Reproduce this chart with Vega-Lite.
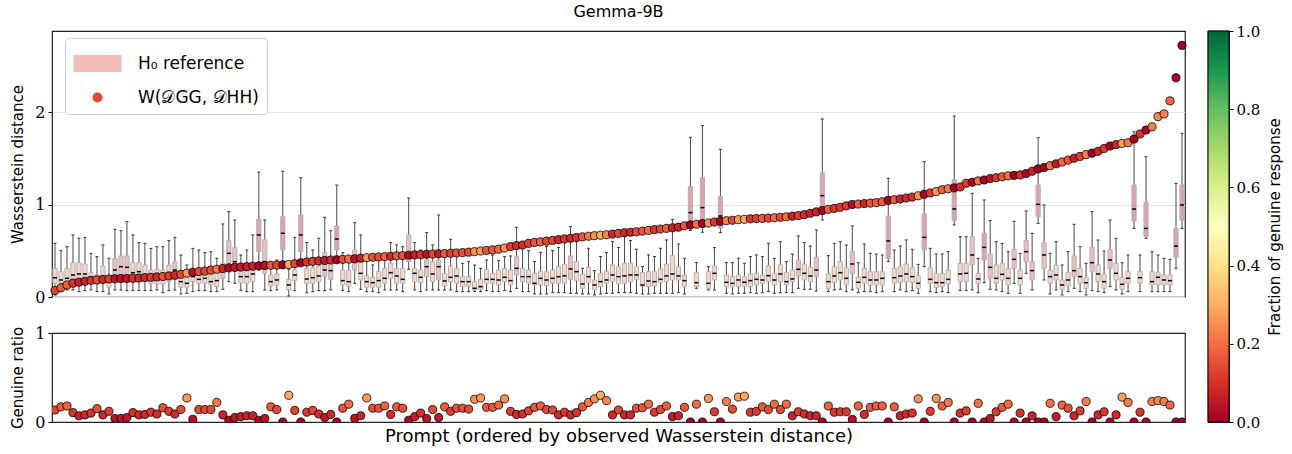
{
"$schema":"https://vega.github.io/schema/vega-lite/v6.json",
"padding":{"left":10,"top":3,"right":4,"bottom":2},
"config":{"font":"DejaVu Sans","view":{"stroke":"#222","strokeWidth":1.2},
"axis":{"labelFont":"DejaVu Serif","labelFontSize":15,"labelColor":"#000","titleFont":"DejaVu Sans","titleFontWeight":"normal","titleColor":"#000","tickColor":"#000","domain":false}},
"datasets":{
"legend":[{"s":"H₀ reference"},{"s":"W(𝒟GG, 𝒟HH)"}],
"bar":[{"lo":0,"hi":1}],
"rows":[
{"i":1,"w":0.07,"f":0.135,"lo":0.022,"q1":0.148,"md":0.209,"q3":0.31,"hi":0.58},
{"i":2,"w":0.1,"f":0.17,"lo":0.058,"q1":0.148,"md":0.184,"q3":0.274,"hi":0.501},
{"i":3,"w":0.13,"f":0.18,"lo":0.076,"q1":0.148,"md":0.202,"q3":0.31,"hi":0.544},
{"i":4,"w":0.15,"f":0.105,"lo":0.076,"q1":0.166,"md":0.238,"q3":0.371,"hi":0.671},
{"i":5,"w":0.16,"f":0.07,"lo":0.058,"q1":0.184,"md":0.249,"q3":0.371,"hi":0.635},
{"i":6,"w":0.17,"f":0.08,"lo":0.069,"q1":0.166,"md":0.249,"q3":0.357,"hi":0.645},
{"i":7,"w":0.18,"f":0.1,"lo":0.076,"q1":0.155,"md":0.213,"q3":0.263,"hi":0.472},
{"i":8,"w":0.185,"f":0.15,"lo":0.058,"q1":0.141,"md":0.184,"q3":0.238,"hi":0.436},
{"i":9,"w":0.19,"f":0.08,"lo":0.058,"q1":0.155,"md":0.22,"q3":0.335,"hi":0.563},
{"i":10,"w":0.195,"f":0.12,"lo":0.033,"q1":0.105,"md":0.166,"q3":0.227,"hi":0.418},
{"i":11,"w":0.197,"f":0.04,"lo":0.076,"q1":0.166,"md":0.292,"q3":0.418,"hi":0.732},
{"i":12,"w":0.2,"f":0.04,"lo":0.076,"q1":0.202,"md":0.328,"q3":0.444,"hi":0.717},
{"i":13,"w":0.2,"f":0.05,"lo":0.069,"q1":0.184,"md":0.321,"q3":0.444,"hi":0.815},
{"i":14,"w":0.202,"f":0.105,"lo":0.069,"q1":0.166,"md":0.263,"q3":0.371,"hi":0.671},
{"i":15,"w":0.205,"f":0.08,"lo":0.069,"q1":0.184,"md":0.274,"q3":0.371,"hi":0.588},
{"i":16,"w":0.21,"f":0.085,"lo":0.069,"q1":0.166,"md":0.22,"q3":0.346,"hi":0.58},
{"i":17,"w":0.213,"f":0.11,"lo":0.069,"q1":0.148,"md":0.202,"q3":0.292,"hi":0.526},
{"i":18,"w":0.217,"f":0.09,"lo":0.076,"q1":0.141,"md":0.213,"q3":0.299,"hi":0.544},
{"i":19,"w":0.222,"f":0.16,"lo":0.047,"q1":0.141,"md":0.202,"q3":0.292,"hi":0.544},
{"i":20,"w":0.228,"f":0.12,"lo":0.069,"q1":0.166,"md":0.249,"q3":0.346,"hi":0.609},
{"i":21,"w":0.235,"f":0.09,"lo":0.076,"q1":0.191,"md":0.292,"q3":0.382,"hi":0.645},
{"i":22,"w":0.245,"f":0.14,"lo":0.033,"q1":0.105,"md":0.166,"q3":0.22,"hi":0.454},
{"i":23,"w":0.258,"f":0.27,"lo":0.04,"q1":0.105,"md":0.148,"q3":0.22,"hi":0.346},
{"i":24,"w":0.268,"f":0.03,"lo":0.058,"q1":0.166,"md":0.22,"q3":0.299,"hi":0.526},
{"i":25,"w":0.275,"f":0.14,"lo":0.069,"q1":0.148,"md":0.191,"q3":0.292,"hi":0.508},
{"i":26,"w":0.28,"f":0.14,"lo":0.069,"q1":0.148,"md":0.202,"q3":0.292,"hi":0.48},
{"i":27,"w":0.29,"f":0.14,"lo":0.058,"q1":0.13,"md":0.166,"q3":0.274,"hi":0.49},
{"i":28,"w":0.3,"f":0.22,"lo":0.058,"q1":0.112,"md":0.177,"q3":0.263,"hi":0.418},
{"i":29,"w":0.308,"f":0.08,"lo":0.083,"q1":0.202,"md":0.328,"q3":0.364,"hi":0.79},
{"i":30,"w":0.315,"f":0.02,"lo":0.166,"q1":0.364,"md":0.472,"q3":0.609,"hi":0.923},
{"i":31,"w":0.32,"f":0.05,"lo":0.148,"q1":0.292,"md":0.382,"q3":0.537,"hi":0.833},
{"i":32,"w":0.324,"f":0.06,"lo":0.069,"q1":0.155,"md":0.22,"q3":0.292,"hi":0.454},
{"i":33,"w":0.328,"f":0.07,"lo":0.058,"q1":0.148,"md":0.22,"q3":0.285,"hi":0.508},
{"i":34,"w":0.333,"f":0.07,"lo":0.058,"q1":0.166,"md":0.249,"q3":0.346,"hi":0.671},
{"i":35,"w":0.337,"f":0.02,"lo":0.292,"q1":0.49,"md":0.671,"q3":0.84,"hi":1.35},
{"i":36,"w":0.34,"f":0.04,"lo":0.076,"q1":0.256,"md":0.382,"q3":0.617,"hi":0.833},
{"i":37,"w":0.343,"f":0.17,"lo":0.069,"q1":0.119,"md":0.166,"q3":0.238,"hi":0.364},
{"i":38,"w":0.345,"f":0.14,"lo":0.076,"q1":0.13,"md":0.184,"q3":0.249,"hi":0.4},
{"i":39,"w":0.348,"f":0.0,"lo":0.37,"q1":0.508,"md":0.689,"q3":0.869,"hi":1.36},
{"i":40,"w":0.352,"f":0.3,"lo":0.011,"q1":0.076,"md":0.13,"q3":0.191,"hi":0.3},
{"i":41,"w":0.36,"f":0.13,"lo":0.069,"q1":0.177,"md":0.238,"q3":0.292,"hi":0.645},
{"i":42,"w":0.37,"f":0.0,"lo":0.35,"q1":0.49,"md":0.671,"q3":0.887,"hi":1.29},
{"i":43,"w":0.378,"f":0.11,"lo":0.047,"q1":0.148,"md":0.195,"q3":0.31,"hi":0.588},
{"i":44,"w":0.385,"f":0.13,"lo":0.058,"q1":0.148,"md":0.209,"q3":0.317,"hi":0.508},
{"i":45,"w":0.39,"f":0.09,"lo":0.069,"q1":0.166,"md":0.227,"q3":0.335,"hi":0.635},
{"i":46,"w":0.395,"f":0.05,"lo":0.069,"q1":0.22,"md":0.292,"q3":0.48,"hi":0.862},
{"i":47,"w":0.4,"f":0.085,"lo":0.076,"q1":0.191,"md":0.285,"q3":0.4,"hi":0.717},
{"i":48,"w":0.403,"f":0.0,"lo":0.38,"q1":0.508,"md":0.627,"q3":0.768,"hi":1.21},
{"i":49,"w":0.407,"f":0.155,"lo":0.069,"q1":0.13,"md":0.177,"q3":0.292,"hi":0.48},
{"i":50,"w":0.41,"f":0.2,"lo":0.058,"q1":0.119,"md":0.166,"q3":0.285,"hi":0.418},
{"i":51,"w":0.413,"f":0.04,"lo":0.148,"q1":0.292,"md":0.382,"q3":0.508,"hi":0.804},
{"i":52,"w":0.42,"f":0.07,"lo":0.083,"q1":0.184,"md":0.256,"q3":0.382,"hi":0.671},
{"i":53,"w":0.425,"f":0.27,"lo":0.058,"q1":0.105,"md":0.166,"q3":0.227,"hi":0.4},
{"i":54,"w":0.43,"f":0.155,"lo":0.058,"q1":0.105,"md":0.155,"q3":0.213,"hi":0.346},
{"i":55,"w":0.433,"f":0.155,"lo":0.047,"q1":0.105,"md":0.177,"q3":0.274,"hi":0.418},
{"i":56,"w":0.437,"f":0.18,"lo":0.076,"q1":0.148,"md":0.202,"q3":0.31,"hi":0.454},
{"i":57,"w":0.44,"f":0.085,"lo":0.076,"q1":0.202,"md":0.263,"q3":0.364,"hi":0.588},
{"i":58,"w":0.445,"f":0.17,"lo":0.076,"q1":0.148,"md":0.227,"q3":0.31,"hi":0.563},
{"i":59,"w":0.448,"f":0.155,"lo":0.058,"q1":0.148,"md":0.191,"q3":0.31,"hi":0.544},
{"i":60,"w":0.452,"f":0.02,"lo":0.3,"q1":0.382,"md":0.454,"q3":0.671,"hi":1.07},
{"i":61,"w":0.455,"f":0.06,"lo":0.076,"q1":0.166,"md":0.256,"q3":0.31,"hi":0.588},
{"i":62,"w":0.458,"f":0.1,"lo":0.058,"q1":0.155,"md":0.213,"q3":0.292,"hi":0.508},
{"i":63,"w":0.462,"f":0.04,"lo":0.076,"q1":0.22,"md":0.328,"q3":0.4,"hi":0.696},
{"i":64,"w":0.465,"f":0.14,"lo":0.076,"q1":0.166,"md":0.249,"q3":0.382,"hi":0.563},
{"i":65,"w":0.468,"f":0.05,"lo":0.076,"q1":0.184,"md":0.328,"q3":0.4,"hi":0.887},
{"i":66,"w":0.47,"f":0.17,"lo":0.076,"q1":0.119,"md":0.173,"q3":0.256,"hi":0.48},
{"i":67,"w":0.473,"f":0.12,"lo":0.076,"q1":0.166,"md":0.213,"q3":0.335,"hi":0.624},
{"i":68,"w":0.476,"f":0.155,"lo":0.058,"q1":0.148,"md":0.227,"q3":0.31,"hi":0.454},
{"i":69,"w":0.48,"f":0.155,"lo":0.058,"q1":0.112,"md":0.166,"q3":0.22,"hi":0.364},
{"i":70,"w":0.485,"f":0.145,"lo":0.058,"q1":0.119,"md":0.166,"q3":0.22,"hi":0.382},
{"i":71,"w":0.49,"f":0.255,"lo":0.058,"q1":0.076,"md":0.094,"q3":0.166,"hi":0.346},
{"i":72,"w":0.497,"f":0.27,"lo":0.058,"q1":0.083,"md":0.112,"q3":0.191,"hi":0.31},
{"i":73,"w":0.503,"f":0.165,"lo":0.069,"q1":0.148,"md":0.191,"q3":0.299,"hi":0.4},
{"i":74,"w":0.51,"f":0.165,"lo":0.058,"q1":0.148,"md":0.191,"q3":0.256,"hi":0.454},
{"i":75,"w":0.517,"f":0.19,"lo":0.058,"q1":0.13,"md":0.184,"q3":0.292,"hi":0.393},
{"i":76,"w":0.53,"f":0.26,"lo":0.069,"q1":0.166,"md":0.213,"q3":0.31,"hi":0.436},
{"i":77,"w":0.545,"f":0.12,"lo":0.058,"q1":0.13,"md":0.177,"q3":0.292,"hi":0.444},
{"i":78,"w":0.556,"f":0.085,"lo":0.094,"q1":0.238,"md":0.31,"q3":0.436,"hi":0.754},
{"i":79,"w":0.562,"f":0.09,"lo":0.058,"q1":0.166,"md":0.22,"q3":0.31,"hi":0.527},
{"i":80,"w":0.58,"f":0.125,"lo":0.058,"q1":0.148,"md":0.22,"q3":0.292,"hi":0.501},
{"i":81,"w":0.59,"f":0.165,"lo":0.033,"q1":0.13,"md":0.148,"q3":0.256,"hi":0.383},
{"i":82,"w":0.597,"f":0.18,"lo":0.033,"q1":0.13,"md":0.202,"q3":0.274,"hi":0.483},
{"i":83,"w":0.604,"f":0.14,"lo":0.033,"q1":0.123,"md":0.184,"q3":0.274,"hi":0.545},
{"i":84,"w":0.612,"f":0.135,"lo":0.047,"q1":0.148,"md":0.202,"q3":0.292,"hi":0.501},
{"i":85,"w":0.62,"f":0.08,"lo":0.047,"q1":0.148,"md":0.22,"q3":0.328,"hi":0.537},
{"i":86,"w":0.628,"f":0.11,"lo":0.047,"q1":0.148,"md":0.228,"q3":0.357,"hi":0.599},
{"i":87,"w":0.635,"f":0.08,"lo":0.04,"q1":0.191,"md":0.303,"q3":0.444,"hi":0.761},
{"i":88,"w":0.643,"f":0.105,"lo":0.04,"q1":0.177,"md":0.274,"q3":0.383,"hi":0.599},
{"i":89,"w":0.65,"f":0.17,"lo":0.033,"q1":0.094,"md":0.141,"q3":0.249,"hi":0.31},
{"i":90,"w":0.657,"f":0.22,"lo":0.033,"q1":0.155,"md":0.22,"q3":0.321,"hi":0.527},
{"i":91,"w":0.663,"f":0.26,"lo":0.022,"q1":0.076,"md":0.13,"q3":0.184,"hi":0.285},
{"i":92,"w":0.668,"f":0.3,"lo":0.033,"q1":0.112,"md":0.166,"q3":0.256,"hi":0.437},
{"i":93,"w":0.673,"f":0.24,"lo":0.04,"q1":0.148,"md":0.184,"q3":0.274,"hi":0.48},
{"i":94,"w":0.68,"f":0.08,"lo":0.04,"q1":0.166,"md":0.238,"q3":0.346,"hi":0.599},
{"i":95,"w":0.688,"f":0.135,"lo":0.047,"q1":0.141,"md":0.22,"q3":0.328,"hi":0.534},
{"i":96,"w":0.695,"f":0.08,"lo":0.047,"q1":0.148,"md":0.228,"q3":0.365,"hi":0.653},
{"i":97,"w":0.7,"f":0.08,"lo":0.047,"q1":0.166,"md":0.238,"q3":0.365,"hi":0.61},
{"i":98,"w":0.705,"f":0.155,"lo":0.04,"q1":0.191,"md":0.238,"q3":0.328,"hi":0.516},
{"i":99,"w":0.712,"f":0.16,"lo":0.033,"q1":0.112,"md":0.13,"q3":0.264,"hi":0.328},
{"i":100,"w":0.72,"f":0.2,"lo":0.033,"q1":0.112,"md":0.173,"q3":0.274,"hi":0.455},
{"i":101,"w":0.728,"f":0.11,"lo":0.04,"q1":0.119,"md":0.166,"q3":0.274,"hi":0.437},
{"i":102,"w":0.735,"f":0.14,"lo":0.04,"q1":0.155,"md":0.191,"q3":0.303,"hi":0.527},
{"i":103,"w":0.742,"f":0.18,"lo":0.04,"q1":0.166,"md":0.228,"q3":0.357,"hi":0.617},
{"i":104,"w":0.748,"f":0.06,"lo":0.04,"q1":0.184,"md":0.249,"q3":0.447,"hi":0.84},
{"i":105,"w":0.755,"f":0.07,"lo":0.047,"q1":0.184,"md":0.228,"q3":0.328,"hi":0.573},
{"i":106,"w":0.77,"f":0.165,"lo":0.033,"q1":0.112,"md":0.177,"q3":0.238,"hi":0.419},
{"i":107,"w":0.78,"f":0.0,"lo":0.72,"q1":0.833,"md":0.912,"q3":1.193,"hi":1.727},
{"i":108,"w":0.787,"f":0.2,"lo":0.094,"q1":0.112,"md":0.155,"q3":0.264,"hi":0.372},
{"i":109,"w":0.794,"f":0.0,"lo":0.7,"q1":0.84,"md":0.966,"q3":1.294,"hi":1.853},
{"i":110,"w":0.8,"f":0.265,"lo":0.076,"q1":0.094,"md":0.148,"q3":0.274,"hi":0.328},
{"i":111,"w":0.81,"f":0.115,"lo":0.076,"q1":0.184,"md":0.256,"q3":0.336,"hi":0.534},
{"i":112,"w":0.818,"f":0.0,"lo":0.696,"q1":0.743,"md":0.876,"q3":1.085,"hi":1.597},
{"i":113,"w":0.825,"f":0.23,"lo":0.04,"q1":0.112,"md":0.159,"q3":0.238,"hi":0.372},
{"i":114,"w":0.83,"f":0.145,"lo":0.033,"q1":0.112,"md":0.148,"q3":0.22,"hi":0.372},
{"i":115,"w":0.836,"f":0.28,"lo":0.04,"q1":0.112,"md":0.184,"q3":0.238,"hi":0.419},
{"i":116,"w":0.84,"f":0.29,"lo":0.04,"q1":0.112,"md":0.159,"q3":0.22,"hi":0.365},
{"i":117,"w":0.845,"f":0.11,"lo":0.047,"q1":0.112,"md":0.177,"q3":0.249,"hi":0.437},
{"i":118,"w":0.848,"f":0.12,"lo":0.04,"q1":0.13,"md":0.191,"q3":0.256,"hi":0.455},
{"i":119,"w":0.85,"f":0.17,"lo":0.047,"q1":0.148,"md":0.184,"q3":0.238,"hi":0.436},
{"i":120,"w":0.853,"f":0.14,"lo":0.058,"q1":0.166,"md":0.231,"q3":0.339,"hi":0.58},
{"i":121,"w":0.857,"f":0.2,"lo":0.04,"q1":0.13,"md":0.184,"q3":0.256,"hi":0.418},
{"i":122,"w":0.862,"f":0.14,"lo":0.047,"q1":0.166,"md":0.249,"q3":0.346,"hi":0.598},
{"i":123,"w":0.867,"f":0.2,"lo":0.047,"q1":0.13,"md":0.166,"q3":0.267,"hi":0.382},
{"i":124,"w":0.874,"f":0.07,"lo":0.047,"q1":0.166,"md":0.195,"q3":0.292,"hi":0.465},
{"i":125,"w":0.88,"f":0.115,"lo":0.094,"q1":0.227,"md":0.299,"q3":0.4,"hi":0.66},
{"i":126,"w":0.89,"f":0.09,"lo":0.083,"q1":0.184,"md":0.256,"q3":0.357,"hi":0.588},
{"i":127,"w":0.905,"f":0.07,"lo":0.083,"q1":0.166,"md":0.227,"q3":0.321,"hi":0.552},
{"i":128,"w":0.92,"f":0.07,"lo":0.065,"q1":0.22,"md":0.292,"q3":0.429,"hi":0.725},
{"i":129,"w":0.935,"f":0.0,"lo":0.833,"q1":0.905,"md":1.096,"q3":1.344,"hi":1.925},
{"i":130,"w":0.948,"f":0.18,"lo":0.058,"q1":0.094,"md":0.166,"q3":0.249,"hi":0.447},
{"i":131,"w":0.958,"f":0.11,"lo":0.076,"q1":0.155,"md":0.227,"q3":0.328,"hi":0.58},
{"i":132,"w":0.97,"f":0.115,"lo":0.083,"q1":0.184,"md":0.263,"q3":0.382,"hi":0.598},
{"i":133,"w":0.985,"f":0.115,"lo":0.058,"q1":0.13,"md":0.202,"q3":0.317,"hi":0.562},
{"i":134,"w":1.0,"f":0.03,"lo":0.076,"q1":0.256,"md":0.357,"q3":0.49,"hi":0.768},
{"i":135,"w":1.005,"f":0.18,"lo":0.047,"q1":0.094,"md":0.159,"q3":0.213,"hi":0.371},
{"i":136,"w":1.01,"f":0.085,"lo":0.058,"q1":0.148,"md":0.213,"q3":0.31,"hi":0.573},
{"i":137,"w":1.015,"f":0.165,"lo":0.058,"q1":0.13,"md":0.184,"q3":0.274,"hi":0.472},
{"i":138,"w":1.02,"f":0.18,"lo":0.047,"q1":0.13,"md":0.184,"q3":0.274,"hi":0.465},
{"i":139,"w":1.03,"f":0.18,"lo":0.058,"q1":0.13,"md":0.202,"q3":0.274,"hi":0.454},
{"i":140,"w":1.045,"f":0.0,"lo":0.382,"q1":0.418,"md":0.606,"q3":0.876,"hi":1.283},
{"i":141,"w":1.052,"f":0.17,"lo":0.058,"q1":0.148,"md":0.209,"q3":0.31,"hi":0.508},
{"i":142,"w":1.06,"f":0.07,"lo":0.076,"q1":0.155,"md":0.227,"q3":0.328,"hi":0.552},
{"i":143,"w":1.07,"f":0.09,"lo":0.058,"q1":0.166,"md":0.249,"q3":0.357,"hi":0.617},
{"i":144,"w":1.08,"f":0.1,"lo":0.069,"q1":0.155,"md":0.22,"q3":0.317,"hi":0.516},
{"i":145,"w":1.095,"f":0.26,"lo":0.04,"q1":0.094,"md":0.148,"q3":0.227,"hi":0.353},
{"i":146,"w":1.11,"f":0.0,"lo":0.328,"q1":0.508,"md":0.645,"q3":0.898,"hi":1.463},
{"i":147,"w":1.125,"f":0.12,"lo":0.058,"q1":0.148,"md":0.191,"q3":0.317,"hi":0.526},
{"i":148,"w":1.14,"f":0.265,"lo":0.047,"q1":0.105,"md":0.155,"q3":0.256,"hi":0.465},
{"i":149,"w":1.16,"f":0.18,"lo":0.058,"q1":0.112,"md":0.155,"q3":0.256,"hi":0.465},
{"i":150,"w":1.17,"f":0.22,"lo":0.047,"q1":0.141,"md":0.191,"q3":0.292,"hi":0.49},
{"i":151,"w":1.18,"f":0.0,"lo":0.779,"q1":0.826,"md":0.952,"q3":1.272,"hi":1.957},
{"i":152,"w":1.19,"f":0.1,"lo":0.069,"q1":0.166,"md":0.249,"q3":0.364,"hi":0.652},
{"i":153,"w":1.23,"f":0.125,"lo":0.069,"q1":0.166,"md":0.256,"q3":0.364,"hi":0.652},
{"i":154,"w":1.24,"f":0.0,"lo":0.076,"q1":0.346,"md":0.454,"q3":0.652,"hi":1.121},
{"i":155,"w":1.255,"f":0.21,"lo":0.047,"q1":0.148,"md":0.195,"q3":0.256,"hi":0.418},
{"i":156,"w":1.265,"f":0.0,"lo":0.155,"q1":0.4,"md":0.537,"q3":0.689,"hi":1.049},
{"i":157,"w":1.28,"f":0.04,"lo":0.083,"q1":0.202,"md":0.321,"q3":0.465,"hi":0.826},
{"i":158,"w":1.29,"f":0.115,"lo":0.076,"q1":0.148,"md":0.202,"q3":0.346,"hi":0.598},
{"i":159,"w":1.3,"f":0.165,"lo":0.058,"q1":0.184,"md":0.245,"q3":0.364,"hi":0.58},
{"i":160,"w":1.31,"f":0.2,"lo":0.04,"q1":0.13,"md":0.202,"q3":0.31,"hi":0.49},
{"i":161,"w":1.315,"f":0.0,"lo":0.148,"q1":0.31,"md":0.407,"q3":0.515,"hi":0.818},
{"i":162,"w":1.32,"f":0.1,"lo":0.04,"q1":0.13,"md":0.202,"q3":0.292,"hi":0.472},
{"i":163,"w":1.335,"f":0.0,"lo":0.256,"q1":0.382,"md":0.49,"q3":0.609,"hi":0.93},
{"i":164,"w":1.36,"f":0.07,"lo":0.076,"q1":0.184,"md":0.285,"q3":0.382,"hi":0.688},
{"i":165,"w":1.385,"f":0.0,"lo":0.796,"q1":0.868,"md":1.002,"q3":1.211,"hi":1.722},
{"i":166,"w":1.4,"f":0.0,"lo":0.184,"q1":0.31,"md":0.454,"q3":0.587,"hi":0.995},
{"i":167,"w":1.42,"f":0.21,"lo":0.033,"q1":0.148,"md":0.22,"q3":0.285,"hi":0.472},
{"i":168,"w":1.44,"f":0.06,"lo":0.076,"q1":0.184,"md":0.238,"q3":0.346,"hi":0.598},
{"i":169,"w":1.46,"f":0.19,"lo":0.022,"q1":0.083,"md":0.13,"q3":0.184,"hi":0.346},
{"i":170,"w":1.48,"f":0.155,"lo":0.058,"q1":0.119,"md":0.184,"q3":0.263,"hi":0.49},
{"i":171,"w":1.5,"f":0.07,"lo":0.094,"q1":0.22,"md":0.285,"q3":0.443,"hi":0.786},
{"i":172,"w":1.52,"f":0.125,"lo":0.058,"q1":0.148,"md":0.22,"q3":0.31,"hi":0.544},
{"i":173,"w":1.54,"f":0.23,"lo":0.022,"q1":0.094,"md":0.155,"q3":0.213,"hi":0.364},
{"i":174,"w":1.555,"f":0.0,"lo":0.069,"q1":0.274,"md":0.371,"q3":0.537,"hi":0.923},
{"i":175,"w":1.575,"f":0.08,"lo":0.058,"q1":0.166,"md":0.249,"q3":0.346,"hi":0.616},
{"i":176,"w":1.605,"f":0.115,"lo":0.047,"q1":0.094,"md":0.166,"q3":0.249,"hi":0.497},
{"i":177,"w":1.632,"f":0.0,"lo":0.112,"q1":0.31,"md":0.4,"q3":0.515,"hi":0.832},
{"i":178,"w":1.648,"f":0.08,"lo":0.076,"q1":0.184,"md":0.256,"q3":0.364,"hi":0.634},
{"i":179,"w":1.66,"f":0.28,"lo":0.033,"q1":0.083,"md":0.137,"q3":0.213,"hi":0.371},
{"i":180,"w":1.668,"f":0.22,"lo":0.058,"q1":0.148,"md":0.202,"q3":0.274,"hi":0.454},
{"i":181,"w":1.708,"f":0.0,"lo":0.742,"q1":0.821,"md":0.951,"q3":1.211,"hi":1.787},
{"i":182,"w":1.762,"f":0.11,"lo":0.058,"q1":0.148,"md":0.209,"q3":0.274,"hi":0.454},
{"i":183,"w":1.805,"f":0.0,"lo":0.634,"q1":0.652,"md":0.742,"q3":1.02,"hi":1.517},
{"i":184,"w":1.84,"f":0.23,"lo":0.058,"q1":0.13,"md":0.166,"q3":0.274,"hi":0.49},
{"i":185,"w":1.95,"f":0.24,"lo":0.058,"q1":0.13,"md":0.213,"q3":0.263,"hi":0.454},
{"i":186,"w":1.98,"f":0.23,"lo":0.058,"q1":0.13,"md":0.184,"q3":0.238,"hi":0.418},
{"i":187,"w":2.12,"f":0.19,"lo":0.058,"q1":0.13,"md":0.177,"q3":0.238,"hi":0.407},
{"i":188,"w":2.37,"f":0.0,"lo":0.31,"q1":0.429,"md":0.551,"q3":0.742,"hi":1.229},
{"i":189,"w":2.72,"f":0.0,"lo":0.742,"q1":0.832,"md":0.995,"q3":1.211,"hi":1.769}
]},
"spacing":17,
"hconcat":[
{"vconcat":[
{"width":1133,"height":266,
"title":{"text":"Gemma-9B","fontSize":16,"fontWeight":"normal","font":"DejaVu Sans","offset":11,"color":"#000"},
"layer":[
{"data":{"name":"rows"},"mark":{"type":"rule","color":"#4a4a4a","strokeWidth":1},
"encoding":{"x":{"field":"i","type":"ordinal","axis":null,"scale":{"paddingInner":0.3,"paddingOuter":0.15}},
"y":{"field":"lo","type":"quantitative","scale":{"domain":[0,2.876],"nice":false,"zero":false},
"axis":{"values":[0,1,2],"format":"d","grid":true,"gridColor":"#e4e4e4","title":"Wasserstein distance","titleFontSize":15,"labelFontSize":16,"tickSize":4,"labelPadding":3,"titlePadding":9}},
"y2":{"field":"hi"}}},
{"data":{"name":"rows"},"mark":{"type":"tick","color":"#333","thickness":1,"size":3,"opacity":1},
"encoding":{"x":{"field":"i","type":"ordinal","axis":null},"y":{"field":"lo","type":"quantitative"}}},
{"data":{"name":"rows"},"mark":{"type":"tick","color":"#333","thickness":1,"size":3,"opacity":1},
"encoding":{"x":{"field":"i","type":"ordinal","axis":null},"y":{"field":"hi","type":"quantitative"}}},
{"data":{"name":"rows"},"mark":{"type":"bar","stroke":"#b3b3b3","strokeWidth":1},
"encoding":{"x":{"field":"i","type":"ordinal","axis":null},"y":{"field":"q1","type":"quantitative"},"y2":{"field":"q3"},
"color":{"condition":[{"test":"datum.md >= 0.5","value":"#dca3ae"},{"test":"datum.md >= 0.28","value":"#ebbfc2"}],"value":"#f7d6ca"}}},
{"data":{"name":"rows"},"mark":{"type":"tick","color":"#000","thickness":1.5,"size":4,"opacity":1},
"encoding":{"x":{"field":"i","type":"ordinal","axis":null},"y":{"field":"md","type":"quantitative"}}},
{"data":{"name":"rows"},"mark":{"type":"circle","size":66,"opacity":1,"stroke":"#000","strokeWidth":0.8},
"encoding":{"x":{"field":"i","type":"ordinal","axis":null},"y":{"field":"w","type":"quantitative"},
"fill":{"field":"f","type":"quantitative","scale":{"scheme":"redyellowgreen","domain":[0,1]},"legend":null}}},
{"data":{"name":"legend"},"mark":{"type":"point","filled":true},
"encoding":{"opacity":{"value":0},
"color":{"field":"s","type":"nominal","scale":{"domain":["H₀ reference","W(𝒟GG, 𝒟HH)"],"range":["#f4bcb8","#e34a33"]},
"legend":{"orient":"none","legendX":13,"legendY":7,"title":null,"labelFontSize":17,"labelFont":"DejaVu Sans","labelColor":"#000","symbolSize":1100,"symbolOpacity":1,"symbolStrokeColor":"#555","symbolStrokeWidth":1,"symbolOffset":7,"fillColor":"#fff","strokeColor":"#ccc","cornerRadius":4,"padding":8,"rowPadding":6,"labelOffset":23}},
"shape":{"field":"s","type":"nominal","scale":{"domain":["H₀ reference","W(𝒟GG, 𝒟HH)"],"range":["M-1.446,-0.512H1.446V0.512H-1.446Z","M0.3,0A0.3,0.3,0,1,1,-0.3,0A0.3,0.3,0,1,1,0.3,0Z"]},
"legend":{"orient":"none","legendX":13,"legendY":7,"title":null,"labelFontSize":17,"labelFont":"DejaVu Sans","labelColor":"#000","symbolSize":1100,"symbolOpacity":1,"symbolStrokeColor":"#555","symbolStrokeWidth":1,"symbolOffset":7,"fillColor":"#fff","strokeColor":"#ccc","cornerRadius":4,"padding":8,"rowPadding":6,"labelOffset":23}}}}
]},
{"width":1133,"height":89,
"layer":[
{"mark":{"type":"rule","color":"#777","strokeWidth":1.5,"strokeDash":[7,4]},"encoding":{"y":{"datum":0.5,"type":"quantitative"}}},
{"data":{"name":"rows"},"mark":{"type":"circle","size":66,"opacity":1,"stroke":"#000","strokeWidth":0.8,"clip":true},
"encoding":{"x":{"field":"i","type":"ordinal","scale":{"paddingInner":0.3,"paddingOuter":0.15},
"axis":{"labels":false,"ticks":false,"domain":false,"title":"Prompt (ordered by observed Wasserstein distance)","titleFontSize":18,"titlePadding":5}},
"y":{"field":"f","type":"quantitative","scale":{"domain":[0,1],"nice":false},
"axis":{"values":[0,1],"format":"d","grid":false,"title":"Genuine ratio","titleFontSize":15,"labelFontSize":16,"tickSize":4,"labelPadding":3,"titlePadding":9}},
"fill":{"field":"f","type":"quantitative","scale":{"scheme":"redyellowgreen","domain":[0,1]},"legend":null}}}
]}
],"spacing":36,"bounds":"flush"},
{"width":21,"height":391,
"title":{"text":" ","fontSize":16,"offset":4},
"data":{"name":"bar"},
"mark":{"type":"rect","stroke":"#000","strokeWidth":1,"fill":{"gradient":"linear","x1":0,"y1":1,"x2":0,"y2":0,"stops":[{"offset":0,"color":"#a50026"},{"offset":0.1,"color":"#d73027"},{"offset":0.2,"color":"#f46d43"},{"offset":0.3,"color":"#fdae61"},{"offset":0.4,"color":"#fee08b"},{"offset":0.5,"color":"#ffffbf"},{"offset":0.6,"color":"#d9ef8b"},{"offset":0.7,"color":"#a6d96a"},{"offset":0.8,"color":"#66bd63"},{"offset":0.9,"color":"#1a9850"},{"offset":1,"color":"#006837"}]}},
"encoding":{"y":{"field":"lo","type":"quantitative","scale":{"domain":[0,1],"nice":false},
"axis":{"orient":"right","values":[0,0.2,0.4,0.6,0.8,1],"format":".1f","grid":false,"title":"Fraction of genuine response","titleAngle":270,"titleBaseline":"top","titleFontSize":15,"titlePadding":8,"labelFontSize":15,"tickSize":4,"labelPadding":3}},
"y2":{"field":"hi"}}}
]
}
